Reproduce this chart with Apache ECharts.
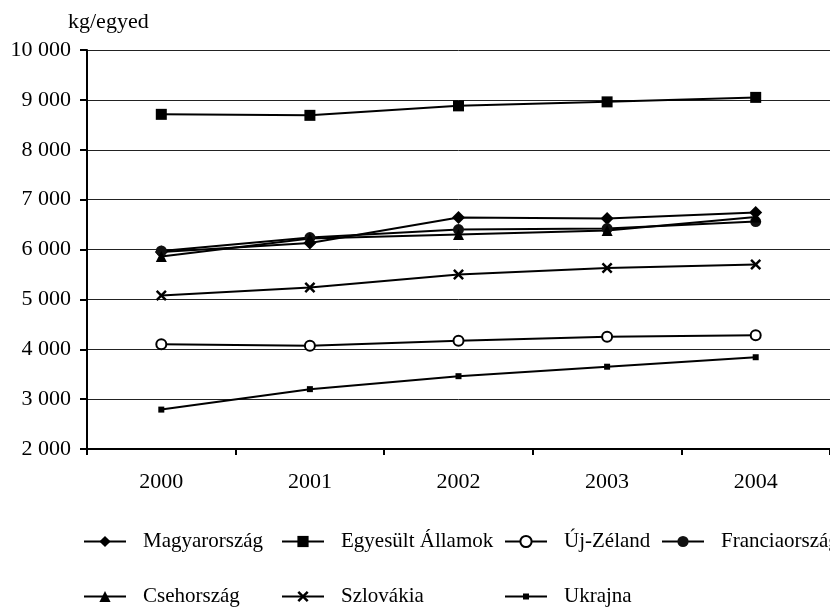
<!DOCTYPE html>
<html>
<head>
<meta charset="utf-8">
<script src="https://cdn.jsdelivr.net/npm/echarts@6/dist/echarts.min.js"></script>
<style>
  html, body { margin: 0; padding: 0; background: #fff; }
  #chart { width: 830px; height: 607px; }
</style>
</head>
<body>
<div id="chart"></div>
<script>
// Milk yield per cow (kg/egyed), 2000–2004
const years = ['2000', '2001', '2002', '2003', '2004'];
const yTicks = [2000, 3000, 4000, 5000, 6000, 7000, 8000, 9000, 10000];

const magyarorszag    = [5950, 6130, 6640, 6620, 6740];
const egyesultAllamok = [8710, 8690, 8880, 8960, 9050];
const ujZeland        = [4100, 4070, 4170, 4250, 4280];
const franciaorszag   = [5970, 6240, 6400, 6420, 6560];
const csehorszag      = [5860, 6220, 6300, 6380, 6650];
const szlovakia       = [5080, 5240, 5500, 5630, 5700];
const ukrajna         = [2790, 3200, 3460, 3650, 3840];

const FONT = '"Liberation Serif", "Times New Roman", serif';
const INK = '#000';

// thick "×" outline used as a filled symbol
const crossPath = 'path://M0,1.6L1.6,0L5,3.4L8.4,0L10,1.6L6.6,5L10,8.4L8.4,10L5,6.6L1.6,10L0,8.4L3.4,5Z';
// legend icon for the small-square series: line with a small square in the middle
const smallSquareIcon = 'path://M0,6H42V8H0Z M18,4H24V10H18Z';

function fmt(v) {
  return String(v).replace(/\B(?=(\d{3})+(?!\d))/g, ' ');
}

function lineSeries(name, data, symbol, size, itemStyle) {
  return {
    name: name,
    type: 'line',
    data: data,
    symbol: symbol,
    symbolSize: size,
    showAllSymbol: true,
    lineStyle: { color: INK, width: 2 },
    itemStyle: Object.assign({ color: INK }, itemStyle || {}),
    emphasis: { disabled: true }
  };
}

const series = [
  lineSeries('Magyarország', magyarorszag, 'diamond', 13),
  lineSeries('Egyesült Államok', egyesultAllamok, 'rect', 11),
  lineSeries('Új-Zéland', ujZeland, 'circle', 10, { color: '#fff', borderColor: INK, borderWidth: 2 }),
  lineSeries('Franciaország', franciaorszag, 'circle', 11, { color: '#111' }),
  lineSeries('Csehország', csehorszag, 'triangle', 11),
  lineSeries('Szlovákia', szlovakia, crossPath, 11),
  lineSeries('Ukrajna', ukrajna, 'rect', 6)
];

// legend columns
const legendCols = [
  { left: 83,  names: ['Magyarország', 'Csehország'] },
  { left: 281, names: ['Egyesült Államok', 'Szlovákia'] },
  { left: 504, names: ['Új-Zéland', { name: 'Ukrajna', icon: smallSquareIcon }] },
  { left: 661, names: ['Franciaország'] }
];

const legends = legendCols.map(function (c) {
  return {
    orient: 'vertical',
    left: c.left,
    top: 531,
    padding: 0,
    itemWidth: 42,
    itemHeight: 14,
    itemGap: 34,
    selectedMode: false,
    data: c.names,
    textStyle: { fontFamily: FONT, fontSize: 21, color: INK, lineHeight: 21, padding: [0, 0, 0, 12] }
  };
});

const chart = echarts.init(document.getElementById('chart'), null, { renderer: 'canvas' });
chart.setOption({
  animation: false,
  backgroundColor: '#fff',
  title: {
    text: 'kg/egyed',
    left: 68,
    top: 11,
    padding: 0,
    textStyle: { fontFamily: FONT, fontSize: 22, fontWeight: 'normal', color: INK }
  },
  legend: legends,
  grid: { left: 87, right: -7, top: 50, bottom: 158, containLabel: false },
  xAxis: {
    type: 'category',
    data: years,
    boundaryGap: true,
    axisLine: { show: true, lineStyle: { color: INK, width: 2 } },
    axisTick: { show: true, length: 6, lineStyle: { color: INK, width: 2 } },
    axisLabel: { fontFamily: FONT, fontSize: 22, color: INK, margin: 22 },
    splitLine: { show: false }
  },
  yAxis: {
    type: 'value',
    min: yTicks[0],
    max: yTicks[yTicks.length - 1],
    interval: yTicks[1] - yTicks[0],
    axisLine: { show: true, lineStyle: { color: INK, width: 2 } },
    axisTick: { show: true, length: 7, lineStyle: { color: INK, width: 2 } },
    axisLabel: { fontFamily: FONT, fontSize: 22, color: INK, margin: 16, formatter: fmt },
    splitLine: { show: true, lineStyle: { color: '#222', width: 1 } }
  },
  series: series
});
</script>
</body>
</html>
